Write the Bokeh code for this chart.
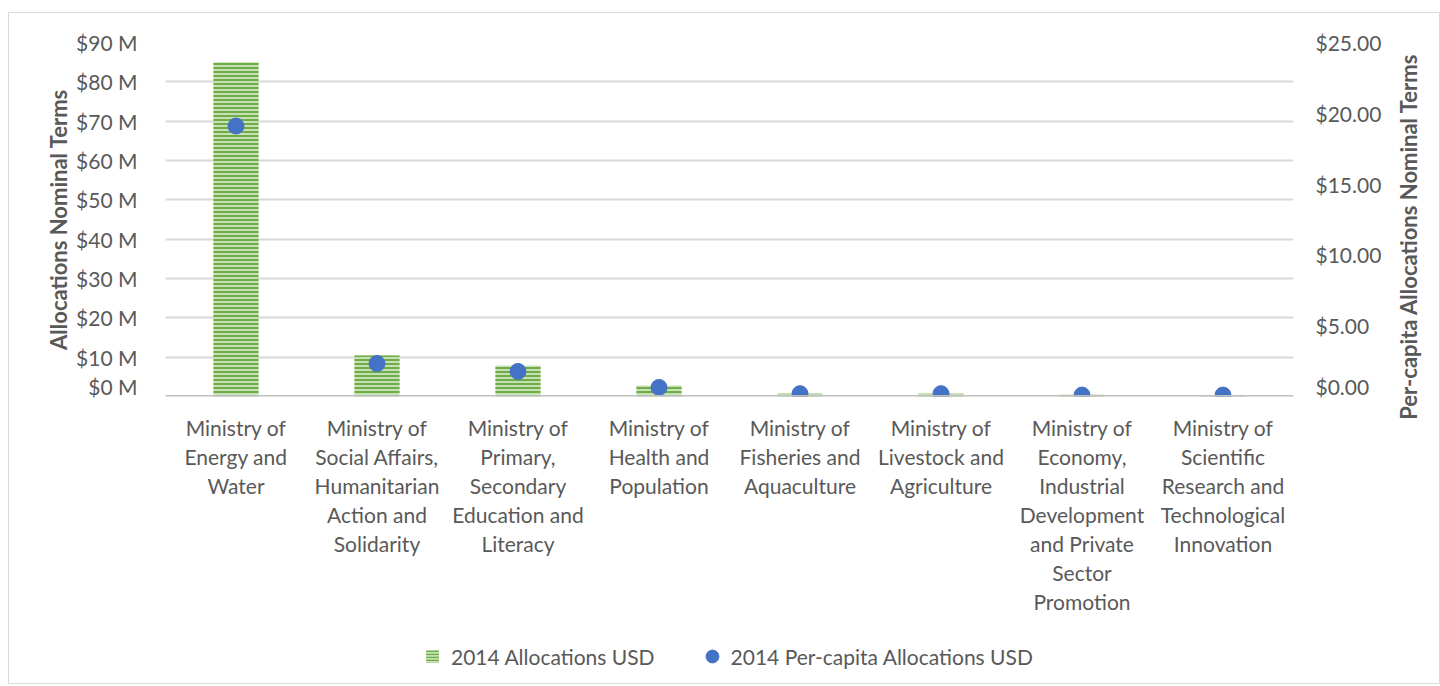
import math
from bokeh.plotting import figure
from bokeh.layouts import column, row
from bokeh.models import (ColumnDataSource, FactorRange, Range1d, LinearAxis, FixedTicker,
                          Span, Legend, LegendItem, NumeralTickFormatter)
from bokeh.embed import file_html
from bokeh.resources import INLINE
from bokeh.core.properties import value

categories = [
    "Ministry of\nEnergy and\nWater",
    "Ministry of\nSocial Affairs,\nHumanitarian\nAction and\nSolidarity",
    "Ministry of\nPrimary,\nSecondary\nEducation and\nLiteracy",
    "Ministry of\nHealth and\nPopulation",
    "Ministry of\nFisheries and\nAquaculture",
    "Ministry of\nLivestock and\nAgriculture",
    "Ministry of\nEconomy,\nIndustrial\nDevelopment\nand Private\nSector\nPromotion",
    "Ministry of\nScientific\nResearch and\nTechnological\nInnovation",
]
allocations_musd = [85.0, 10.4, 7.9, 2.8, 0.9, 0.9, 0.5, 0.4]
per_capita_usd = [19.1, 2.33, 1.77, 0.64, 0.2, 0.2, 0.1, 0.1]
left_ticks = [0, 10, 20, 30, 40, 50, 60, 70, 80, 90]
left_labels = {t: f"${t} M" for t in left_ticks}
right_ticks = [0, 5, 10, 15, 20, 25]
series_names = ["2014 Allocations USD", "2014 Per-capita Allocations USD"]
left_title = "Allocations Nominal Terms"
right_title = "Per-capita Allocations Nominal Terms"

FONT = "Lato"
TXT = "#595959"
FS = "21px"
GREEN_FILL = "#c5e0b4"
GREEN = "#70ad47"
BLUE = "#4472c4"

src = ColumnDataSource(dict(x=categories, alloc=allocations_musd, pc=per_capita_usd))

xr = FactorRange(*categories, range_padding=0)

# ---------------- main chart ----------------
p = figure(x_range=xr, y_range=Range1d(0, 90),
           width=1385, height=385, output_backend="svg", toolbar_location=None,
           min_border_left=156, min_border_right=101, min_border_top=29, min_border_bottom=2)
p.outline_line_color = None
p.extra_y_ranges = {"pc": Range1d(0, 25)}

bars = p.vbar(x="x", top="alloc", width=0.32, source=src, fill_color=GREEN_FILL,
              line_color=None, hatch_pattern="horizontal_line", hatch_color=GREEN,
              hatch_scale=4, hatch_weight=2)
dots = p.scatter(x="x", y="pc", y_range_name="pc", size=16, color=BLUE, source=src)

p.add_layout(Span(location=0, dimension="width", line_color="#bfbfbf", line_width=3))

p.ygrid.ticker = FixedTicker(ticks=left_ticks)
p.ygrid.grid_line_color = "#d9d9d9"
p.ygrid.grid_line_width = 2
p.xgrid.grid_line_color = None
p.xaxis.visible = False

ya = p.yaxis[0]
ya.ticker = FixedTicker(ticks=left_ticks)
ya.major_label_overrides = left_labels
ya.axis_line_color = None
ya.major_tick_line_color = None
ya.minor_tick_line_color = None
ya.major_label_standoff = 22
ya.major_label_text_font = FONT
ya.major_label_text_font_size = FS
ya.major_label_text_color = TXT
ya.axis_label = left_title
ya.axis_label_text_font = FONT
ya.axis_label_text_font_size = "22px"
ya.axis_label_text_font_style = "bold"
ya.axis_label_text_color = TXT
ya.axis_label_standoff = 1

ra = LinearAxis(y_range_name="pc", ticker=FixedTicker(ticks=right_ticks),
                formatter=NumeralTickFormatter(format="$0.00"))
ra.axis_line_color = None
ra.major_tick_line_color = None
ra.minor_tick_line_color = None
ra.major_label_standoff = 16
ra.major_label_text_font = FONT
ra.major_label_text_font_size = FS
ra.major_label_text_color = TXT
p.add_layout(ra, "right")

# ---------------- category labels + legend ----------------
q = figure(x_range=xr, y_range=Range1d(285, 0),
           width=1385, height=285, output_backend="svg", toolbar_location=None,
           min_border_left=156, min_border_right=101, min_border_top=0, min_border_bottom=0,
           x_axis_location=None, y_axis_location=None)
q.outline_line_color = None
q.grid.visible = False

lab_src = ColumnDataSource(dict(x=categories, y=[16] * len(categories), t=categories))
q.text(x="x", y="y", text="t", source=lab_src, text_align="center", text_baseline="top",
       text_font=value(FONT), text_font_size=FS, text_color=TXT, text_line_height=1.16)

# legend proxies (kept outside the visible range)
proxy_src = ColumnDataSource(dict(x=[categories[0]], y=[-100]))
leg_bar = q.scatter(x="x", y="y", source=proxy_src, marker="square", fill_color=GREEN_FILL,
                    line_color=None, hatch_pattern="horizontal_line", hatch_color=GREEN,
                    hatch_scale=3, hatch_weight=1.5)
leg_dot = q.scatter(x="x", y="y", source=proxy_src, marker="circle", color=BLUE)

legend = Legend(items=[LegendItem(label=series_names[0], renderers=[leg_bar]),
                       LegendItem(label=series_names[1], renderers=[leg_dot])],
                orientation="horizontal", location=(251, 11), margin=0, padding=0,
                label_text_font=FONT, label_text_font_size=FS, label_text_color=TXT,
                glyph_width=32, glyph_height=32, spacing=41, label_standoff=3,
                border_line_color=None, background_fill_alpha=0)
q.add_layout(legend)

# ---------------- right axis title (rotated, reads bottom-to-top) ----------------
r = figure(x_range=Range1d(0, 45), y_range=Range1d(0, 670),
           width=45, height=670, output_backend="svg", toolbar_location=None,
           min_border=0, x_axis_location=None, y_axis_location=None)
r.outline_line_color = None
r.grid.visible = False
r.text(x=[14], y=[447], text=[right_title], angle=math.pi / 2,
       text_align="center", text_baseline="middle",
       text_font=value(FONT), text_font_size="22px", text_font_style="bold",
       text_color=TXT)

layout = row(column(p, q, spacing=0), r, spacing=0,
             styles={"border": "1px solid #d9d9d9", "margin-top": "12px", "margin-left": "8px"})

open("out.html", "w").write(file_html(layout, INLINE))
